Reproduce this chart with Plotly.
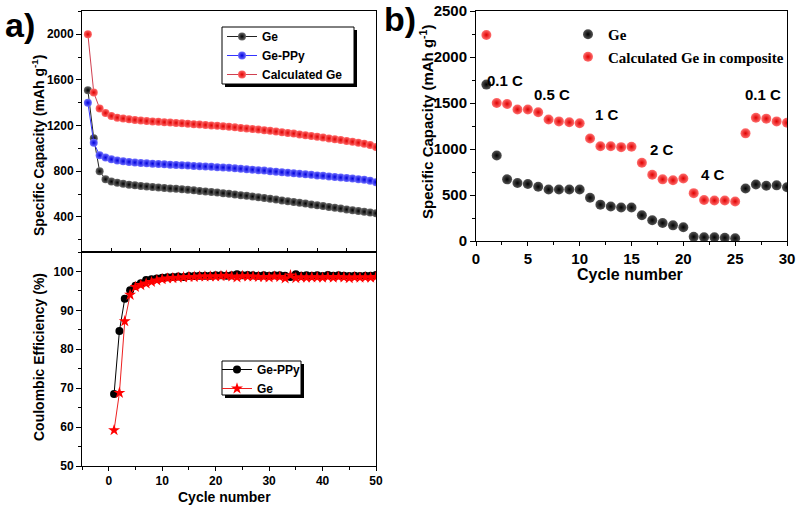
import plotly.graph_objects as go

# =============================================================================
# Data
# =============================================================================
cycles_50 = list(range(1, 51))

cap_ge = [1510, 1090, 800, 730, 710, 700, 690, 683, 677, 672,
          667, 662, 658, 654, 650, 646, 642, 638, 633, 628,
          624, 619, 614, 608, 603, 597, 591, 585, 579, 572,
          566, 559, 552, 545, 538, 531, 524, 517, 509, 502,
          495, 488, 480, 473, 466, 459, 452, 445, 438, 432]
cap_ge_ppy = [1400, 1050, 940, 920, 905, 895, 888, 882, 877, 873,
              870, 867, 864, 861, 858, 856, 853, 850, 847, 845,
              842, 839, 836, 833, 830, 826, 822, 818, 814, 810,
              806, 801, 797, 792, 788, 783, 778, 773, 769, 764,
              760, 755, 750, 745, 741, 736, 731, 726, 718, 705]
cap_calc = [2000, 1490, 1350, 1310, 1285, 1270, 1262, 1255, 1250, 1245,
            1240, 1237, 1234, 1230, 1227, 1224, 1220, 1217, 1213, 1210,
            1206, 1202, 1198, 1194, 1190, 1185, 1180, 1175, 1170, 1165,
            1160, 1154, 1148, 1142, 1136, 1130, 1123, 1116, 1109, 1102,
            1095, 1088, 1081, 1074, 1066, 1058, 1050, 1042, 1030, 1012]

ce_ppy = [68.5, 84.7, 93.0, 95.2, 96.3, 97.0, 97.8, 98.0, 98.2, 98.4,
          98.5, 98.6, 98.7, 98.6, 98.8, 98.8, 98.9, 98.9, 98.9, 99.0,
          99.0, 98.9, 99.0, 99.3, 99.0, 99.1, 99.0, 98.9, 99.0, 98.9,
          99.0, 99.0, 98.9, 98.6, 99.3, 98.9, 99.0, 98.9, 99.0, 98.8,
          99.1, 98.9, 99.0, 98.9, 98.8, 98.9, 98.8, 98.9, 98.9, 99.1]
ce_ge = [59.2, 68.8, 87.2, 94.0, 96.0, 96.5, 96.9, 97.3, 97.7, 98.0,
         98.2, 98.3, 98.4, 98.5, 98.6, 98.6, 98.7, 98.7, 98.7, 98.7,
         98.8, 98.9, 98.7, 98.5, 98.8, 98.7, 98.7, 98.6, 98.6, 98.5,
         98.7, 98.6, 98.2, 99.0, 98.3, 98.5, 98.4, 98.5, 98.5, 98.4,
         98.6, 98.4, 98.6, 98.5, 98.3, 98.5, 98.4, 98.5, 98.4, 98.6]

cycles_30 = list(range(1, 31))
rate_ge = [1700, 930, 670, 630, 620, 590, 560, 560, 560, 560,
           470, 395, 375, 365, 365, 280, 225, 195, 170, 150,
           45, 40, 40, 35, 30, 570, 615, 600, 605, 585]
rate_calc = [2240, 1500, 1490, 1430, 1430, 1400, 1320, 1300, 1290, 1280,
             1115, 1030, 1030, 1020, 1025, 850, 720, 670, 660, 680,
             520, 445, 440, 440, 430, 1170, 1340, 1330, 1300, 1285]

rate_labels = ["0.1 C", "0.5 C", "1 C", "2 C", "4 C", "0.1 C"]
rate_label_x = [2.8, 7.3, 12.6, 17.9, 22.9, 27.7]
rate_label_y = [1750, 1590, 1380, 1000, 720, 1590]

# =============================================================================
# Style
# =============================================================================
W, H = 799, 510
FONT = "Arial, Liberation Sans, sans-serif"
SERIF = "Times New Roman, Liberation Serif, serif"


def px_x(p):
    return p / W


def px_y(p):
    return 1 - p / H


def sphere(center, edge, size):
    return dict(symbol="circle", size=size, color=center,
                gradient=dict(type="radial", color=edge), line=dict(width=0))


fig = go.Figure()

# -------------------------
# panel a, top: capacity
# -------------------------
fig.add_trace(go.Scatter(x=cycles_50, y=cap_ge, name="Ge", mode="lines+markers",
                         line=dict(color="#222222", width=1),
                         marker=sphere("#6a6a6a", "#000000", 8),
                         xaxis="x", yaxis="y", legend="legend"))
fig.add_trace(go.Scatter(x=cycles_50, y=cap_ge_ppy, name="Ge-PPy", mode="lines+markers",
                         line=dict(color="#3333ff", width=1),
                         marker=sphere("#7070ff", "#0000dd", 8),
                         xaxis="x", yaxis="y", legend="legend"))
fig.add_trace(go.Scatter(x=cycles_50, y=cap_calc, name="Calculated Ge", mode="lines+markers",
                         line=dict(color="#d04050", width=1),
                         marker=sphere("#ff6a6a", "#e00000", 8),
                         xaxis="x", yaxis="y", legend="legend"))

# -------------------------
# panel a, bottom: coulombic efficiency
# -------------------------
fig.add_trace(go.Scatter(x=cycles_50, y=ce_ppy, name="Ge-PPy", mode="lines+markers",
                         line=dict(color="#000000", width=1),
                         marker=dict(symbol="circle", size=8, color="#000000"),
                         xaxis="x2", yaxis="y2", legend="legend2"))
fig.add_trace(go.Scatter(x=cycles_50, y=ce_ge, name="Ge", mode="lines+markers",
                         line=dict(color="#ee2020", width=1),
                         marker=dict(symbol="star", size=9, color="#ff0000"),
                         xaxis="x2", yaxis="y2", legend="legend2"))

# -------------------------
# panel b: rate capability
# -------------------------
fig.add_trace(go.Scatter(x=cycles_30, y=rate_ge, name="Ge", mode="markers",
                         marker=sphere("#555555", "#000000", 10),
                         xaxis="x3", yaxis="y3", legend="legend3"))
fig.add_trace(go.Scatter(x=cycles_30, y=rate_calc, name="Calculated Ge in composite", mode="markers",
                         marker=sphere("#ff7070", "#e00000", 10),
                         xaxis="x3", yaxis="y3", legend="legend3"))

for t, xv, yv in zip(rate_labels, rate_label_x, rate_label_y):
    fig.add_annotation(x=xv, y=yv, xref="x3", yref="y3", text=t, showarrow=False,
                       font=dict(family=FONT, size=15, color="black", weight="bold"))

# -------------------------
# axes
# -------------------------
axis_common = dict(showline=True, linecolor="black", linewidth=1, mirror=True,
                   showgrid=False, zeroline=False, ticks="outside", tickcolor="black",
                   tickwidth=1, automargin=False)
tick_a = dict(family=FONT, size=12, color="black", weight="bold")
tick_b = dict(family=FONT, size=15, color="black", weight="bold")

dom_ax = [px_x(82), px_x(376)]
fig.update_layout(
    xaxis=dict(axis_common, domain=dom_ax, range=[0, 50], anchor="y",
               showticklabels=False, ticks="inside", dtick=5, ticklen=4),
    yaxis=dict(axis_common, domain=[px_y(252), px_y(11)], range=[93, 2204], anchor="x",
               tick0=0, dtick=400, ticklen=5, tickfont=tick_a,
               minor=dict(dtick=200, ticks="outside", ticklen=3, tickcolor="black")),
    xaxis2=dict(axis_common, domain=dom_ax, range=[-5, 50], anchor="y2",
                dtick=10, ticklen=4, tickfont=tick_a,
                minor=dict(dtick=5, ticks="outside", ticklen=3, tickcolor="black")),
    yaxis2=dict(axis_common, domain=[px_y(466), px_y(252)], range=[50, 105], anchor="x2",
                dtick=10, ticklen=5, tickfont=tick_a,
                minor=dict(dtick=5, ticks="outside", ticklen=3, tickcolor="black")),
    xaxis3=dict(axis_common, domain=[px_x(476), px_x(787)], range=[0, 30], anchor="y3",
                dtick=5, ticklen=4, tickfont=tick_b,
                minor=dict(dtick=2.5, ticks="outside", ticklen=3, tickcolor="black")),
    yaxis3=dict(axis_common, domain=[px_y(241), px_y(11)], range=[0, 2500], anchor="x3",
                dtick=500, ticklen=5, tickfont=tick_b,
                minor=dict(dtick=250, ticks="outside", ticklen=3, tickcolor="black")),
)

# -------------------------
# axis titles and panel labels
# -------------------------
titles = [
    ("Specific Capacity (mAh g<sup>-1</sup>)", 38, 146, -90, 14),
    ("Coulombic Efficiency (%)", 39, 357, -90, 14),
    ("Cycle number", 224, 497, 0, 14),
    ("Specific Capacity (mAh g<sup>-1</sup>)", 426, 122, -90, 15),
    ("Cycle number", 630, 274, 0, 16),
    ("a)", 20, 25, 0, 34),
    ("b)", 400, 19, 0, 34),
]
for text, x, y, ang, size in titles:
    fig.add_annotation(x=px_x(x), y=px_y(y), xref="paper", yref="paper", text=text,
                       showarrow=False, textangle=ang, xanchor="center", yanchor="middle",
                       font=dict(family=FONT, size=size, color="black", weight="bold"))

# -------------------------
# legends: framed boxes with a drop shadow drawn as shapes under the legend
# -------------------------
leg_a_font = dict(family=FONT, size=12, color="black", weight="bold")
fig.update_layout(
    legend=dict(x=px_x(222), y=px_y(22), xanchor="left", yanchor="top",
                bgcolor="rgba(0,0,0,0)", borderwidth=0,
                font=leg_a_font, tracegroupgap=0, itemwidth=30),
    legend2=dict(x=px_x(217), y=px_y(355), xanchor="left", yanchor="top",
                 bgcolor="rgba(0,0,0,0)", borderwidth=0,
                 font=leg_a_font, tracegroupgap=0, itemwidth=30),
    legend3=dict(x=px_x(568), y=px_y(18), xanchor="left", yanchor="top",
                 bgcolor="rgba(0,0,0,0)", borderwidth=0,
                 font=dict(family=SERIF, size=15, color="black", weight="bold")),
)
legend_boxes = [(222, 27, 354, 84), (222, 361, 301, 395)]
for x0, y0, x1, y1 in legend_boxes:
    fig.add_shape(type="rect", xref="paper", yref="paper", layer="above",
                  x0=px_x(x0 + 3), x1=px_x(x1 + 3), y0=px_y(y1 + 3), y1=px_y(y0 + 3),
                  fillcolor="black", line=dict(width=0))
    fig.add_shape(type="rect", xref="paper", yref="paper", layer="above",
                  x0=px_x(x0), x1=px_x(x1), y0=px_y(y1), y1=px_y(y0),
                  fillcolor="white", line=dict(color="black", width=1))

fig.update_layout(
    width=W, height=H,
    margin=dict(l=0, r=0, t=0, b=0),
    paper_bgcolor="white", plot_bgcolor="white",
    showlegend=True,
)

# the page body has a default 8px margin; drop it so the figure sits at (0, 0)
fig.write_html("out.html", config={"displayModeBar": False},
               post_script="document.body.style.margin='0';")
